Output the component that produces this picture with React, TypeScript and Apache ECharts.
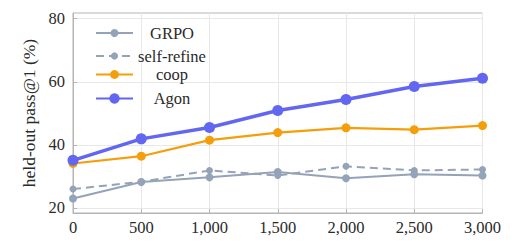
import React, { useEffect, useRef } from "react";
import * as echarts from "echarts";

// Training steps on the x axis
const steps = [0, 500, 1000, 1500, 2000, 2500, 3000];

// held-out pass@1 (%) per method
const grpo = [23.0, 28.2, 29.7, 31.4, 29.4, 30.7, 30.3];
const selfRefine = [26.0, 28.3, 31.9, 30.3, 33.2, 31.9, 32.2];
const coop = [34.1, 36.4, 41.5, 43.9, 45.4, 44.8, 46.1];
const agon = [35.1, 41.9, 45.5, 50.9, 54.4, 58.5, 61.1];

const yTicks = [20, 40, 60, 80];

const FONT = "'Liberation Serif', 'DejaVu Serif', serif";
const TEXT = "#2a2a2a";
const SLATE = "#94a3b8";
const AMBER = "#f59e0b";
const INDIGO = "#6366f1";

const pairs = (vals: number[]) => steps.map((s, i) => [s, vals[i]]);

export default function App() {
  const ref = useRef<HTMLDivElement>(null);

  useEffect(() => {
    if (!ref.current) return;
    const chart = echarts.init(ref.current, undefined, { renderer: "svg" });

    // one legend block per entry so each row sits at its own height
    const legendAt = (name: string, top: number, itemHeight: number) => ({
      show: true,
      data: [name],
      left: 95,
      top,
      orient: "vertical" as const,
      itemWidth: 37,
      itemHeight,
      itemGap: 0,
      padding: 0,
      backgroundColor: "transparent",
      selectedMode: false,
      formatter: "{t|{name}}",
      textStyle: {
        rich: {
          t: {
            width: 68,
            align: "center" as const,
            fontFamily: FONT,
            fontSize: 16.5,
            color: TEXT,
          },
        },
      },
    });

    chart.setOption({
      animation: false,
      backgroundColor: "#fff",
      grid: {
        left: 73,
        top: 13,
        width: 409.5,
        height: 200,
        show: true,
        borderColor: "#b5b5b5",
        borderWidth: 1,
        backgroundColor: "transparent",
      },
      legend: [
        legendAt("GRPO", 24.5, 10),
        legendAt("self-refine", 47.5, 9),
        legendAt("coop", 66, 11),
        legendAt("Agon", 90, 13),
      ],
      xAxis: {
        type: "value",
        min: 0,
        max: 3000,
        interval: 500,
        axisLine: { show: true, lineStyle: { color: "#b5b5b5", width: 1 } },
        axisTick: { show: true, inside: true, length: 4, lineStyle: { color: "#b5b5b5" } },
        splitLine: { show: true, lineStyle: { color: "#e8e8e8", width: 1 } },
        axisLabel: {
          margin: 6,
          fontFamily: FONT,
          fontSize: 16.5,
          color: TEXT,
          formatter: (v: number) => v.toLocaleString("en-US"),
        },
      },
      yAxis: {
        type: "value",
        min: 18.4,
        max: 81.8,
        name: "held-out pass@1 (%)",
        nameLocation: "middle",
        nameRotate: 90,
        nameGap: 35,
        nameTextStyle: { fontFamily: FONT, fontSize: 17.5, color: TEXT },
        axisLine: { show: true, lineStyle: { color: "#b5b5b5", width: 1 } },
        axisTick: {
          show: true,
          inside: true,
          length: 4,
          customValues: yTicks,
          lineStyle: { color: "#b5b5b5" },
        },
        splitLine: { show: true, lineStyle: { color: "#e8e8e8", width: 1 } },
        axisLabel: {
          margin: 8,
          fontFamily: FONT,
          fontSize: 16.5,
          color: TEXT,
          customValues: yTicks,
        },
      },
      series: [
        {
          name: "GRPO",
          type: "line",
          data: pairs(grpo),
          symbol: "circle",
          symbolSize: 8,
          color: SLATE,
          lineStyle: { color: SLATE, width: 2 },
          itemStyle: { color: SLATE },
          z: 2,
        },
        {
          name: "self-refine",
          type: "line",
          data: pairs(selfRefine),
          symbol: "circle",
          symbolSize: 7,
          color: SLATE,
          lineStyle: { color: SLATE, width: 2, type: [8, 5] },
          itemStyle: { color: SLATE },
          z: 3,
        },
        {
          name: "coop",
          type: "line",
          data: pairs(coop),
          symbol: "circle",
          symbolSize: 9,
          color: AMBER,
          lineStyle: { color: AMBER, width: 2.2 },
          itemStyle: { color: AMBER },
          z: 4,
        },
        {
          name: "Agon",
          type: "line",
          data: pairs(agon),
          symbol: "circle",
          symbolSize: 11,
          color: INDIGO,
          lineStyle: { color: INDIGO, width: 3.5 },
          itemStyle: { color: INDIGO },
          z: 5,
        },
      ],
    });

    return () => chart.dispose();
  }, []);

  return (
    <div
      ref={ref}
      style={{ position: "fixed", left: 0, top: 0, width: 529, height: 243 }}
    />
  );
}
